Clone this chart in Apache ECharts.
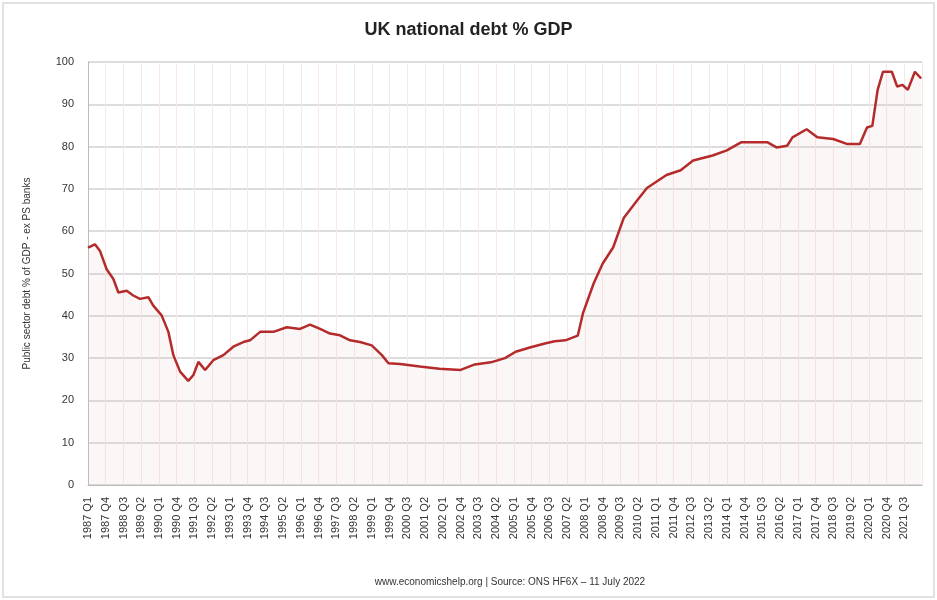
<!DOCTYPE html>
<html><head><meta charset="utf-8">
<script src="https://cdn.jsdelivr.net/npm/echarts@6/dist/echarts.min.js"></script>
<style>html,body{margin:0;padding:0;background:#fff}#c{width:937px;height:600px}</style>
</head><body><div id="c"></div>
<script>
const tickLabels = ["1987 Q1","1987 Q4","1988 Q3","1989 Q2","1990 Q1","1990 Q4","1991 Q3","1992 Q2","1993 Q1","1993 Q4","1994 Q3","1995 Q2","1996 Q1","1996 Q4","1997 Q3","1998 Q2","1999 Q1","1999 Q4","2000 Q3","2001 Q2","2002 Q1","2002 Q4","2003 Q3","2004 Q2","2005 Q1","2005 Q4","2006 Q3","2007 Q2","2008 Q1","2008 Q4","2009 Q3","2010 Q2","2011 Q1","2011 Q4","2012 Q3","2013 Q2","2014 Q1","2014 Q4","2015 Q3","2016 Q2","2017 Q1","2017 Q4","2018 Q3","2019 Q2","2020 Q1","2020 Q4","2021 Q3"];
// position in tick-label slots
const positions = [0,0.39,0.68,1.05,1.43,1.71,2.18,2.55,2.93,3.4,3.68,4.15,4.53,4.81,5.19,5.65,5.94,6.22,6.6,7.06,7.63,8.19,8.75,9.13,9.7,10.45,11.2,11.95,12.51,13.08,13.64,14.2,14.77,15.33,15.99,16.56,16.93,17.59,18.7,19.8,21,21.8,22.7,23.5,24.1,24.9,25.8,26.3,26.9,27.6,27.9,28.5,29.0,29.6,30.2,30.9,31.5,32.6,33.4,34.1,35.2,36.0,36.8,38.3,38.8,39.4,39.7,40.5,41.1,42.0,42.8,43.5,43.9,44.2,44.5,44.8,45.3,45.6,45.9,46.2,46.6,46.95];
const debtPct = [56.1,56.9,55.3,51,48.7,45.5,45.9,44.8,44,44.4,42.4,40.1,36.2,30.7,26.8,24.6,26,29.1,27.2,29.5,30.7,32.7,33.8,34.2,36.2,36.2,37.3,36.9,37.9,36.9,35.8,35.4,34.2,33.8,33,30.7,28.8,28.6,28,27.5,27.2,28.5,29,30,31.5,32.5,33.5,34,34.2,35.3,40.7,47.7,52.3,56.2,63.2,67,70.2,73.3,74.4,76.7,77.9,79.1,81,81,79.8,80.2,82.2,84.1,82.2,81.8,80.6,80.6,84.5,84.9,93.4,97.7,97.7,94.2,94.6,93.4,97.7,96.1];
const yTicks = [0,10,20,30,40,50,60,70,80,90,100];

const chart = echarts.init(document.getElementById('c'));
const font = '"Liberation Sans", Arial, sans-serif';
chart.setOption({
  animation:false,
  backgroundColor:'#fff',
  graphic:[{type:'rect',shape:{x:3,y:3,width:931,height:594},style:{fill:'none',stroke:'#d9d9d9',lineWidth:1.5},silent:true}],
  title:[{text:'UK national debt % GDP',left:'center',top:16,textStyle:{fontFamily:font,fontSize:18,fontWeight:'bold',color:'#222'}},
         {text:'www.economicshelp.org | Source: ONS HF6X – 11 July 2022',left:505,top:572,textAlign:'center',textStyle:{fontFamily:font,fontSize:10,fontWeight:'normal',color:'#333'}}],
  grid:{left:88,right:15,top:62,bottom:115},
  xAxis:{type:'value',min:0,max:47,interval:1,
    axisLine:{show:true,lineStyle:{color:'#bbb'}},axisTick:{show:false},
    splitLine:{show:true,lineStyle:{color:'#f7e6e6',width:1}},
    axisLabel:{rotate:90,fontFamily:font,fontSize:11,color:'#333',margin:12,
      formatter:v=> (v<tickLabels.length? tickLabels[v]:'')}},
  yAxis:{type:'value',min:0,max:100,interval:10,
    name:'Public sector debt % of GDP - ex PS banks',nameLocation:'middle',nameGap:56,
    nameTextStyle:{fontFamily:font,fontSize:10,color:'#333'},
    axisLine:{show:true,lineStyle:{color:'#bbb'}},axisTick:{show:false},
    axisLabel:{fontFamily:font,fontSize:11,color:'#333',margin:14,formatter:v=>yTicks.includes(v)?String(v):''},
    splitLine:{lineStyle:{color:'#d0d0d0',width:1.5}}},
  series:[{type:'line',data:positions.map((p,i)=>[p,debtPct[i]]),showSymbol:false,smooth:false,
    lineStyle:{color:'#b52a2a',width:2.5},
    areaStyle:{color:'rgba(230,190,190,0.18)'}}]
});
</script></body></html>
